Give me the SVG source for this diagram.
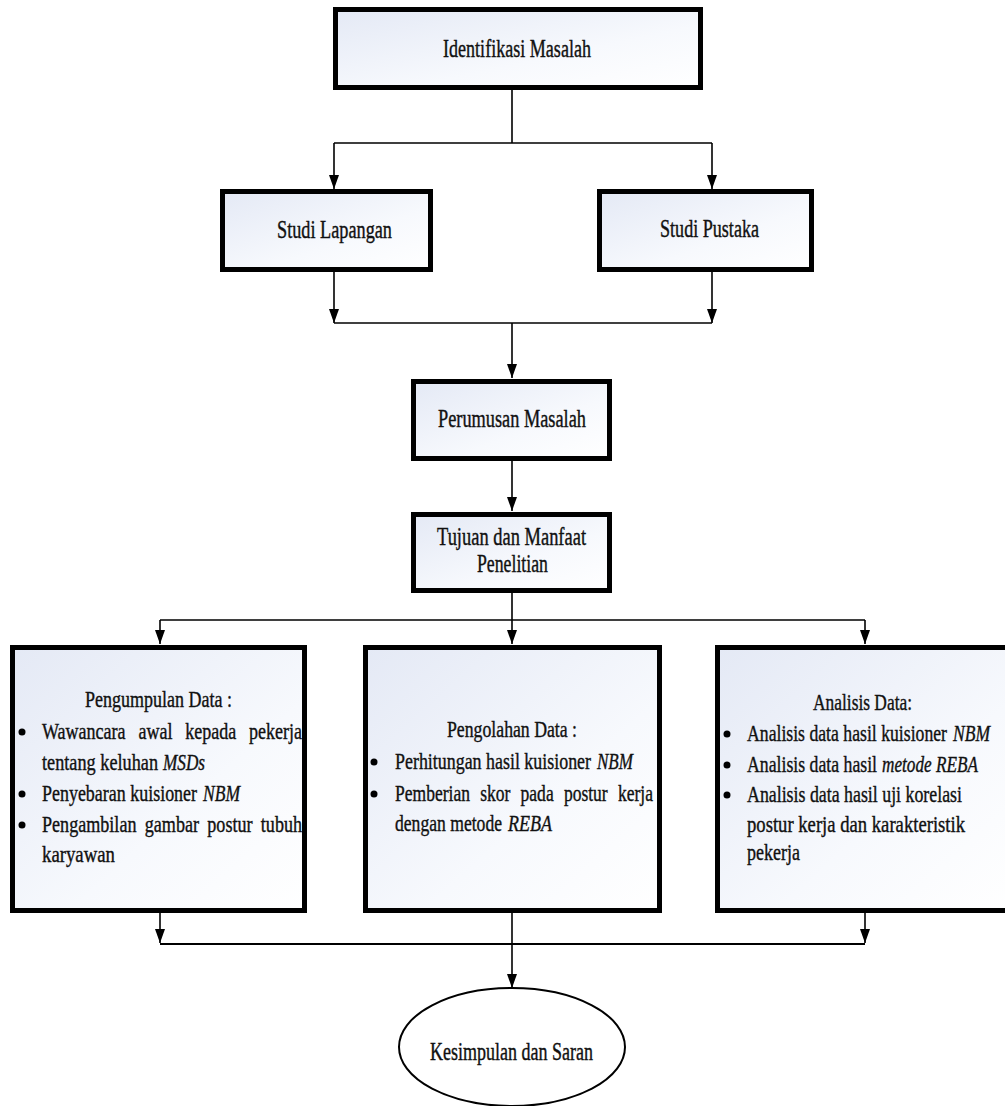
<svg xmlns="http://www.w3.org/2000/svg" width="1005" height="1106" viewBox="0 0 1005 1106">
<style>
.box{fill:url(#g);stroke:#000;stroke-width:5}
.t{font-family:"Liberation Serif","Times New Roman",serif;font-size:25px;fill:#111;stroke:#111;stroke-width:0.4}
.b{font-family:"Liberation Serif","Times New Roman",serif;font-size:24px;fill:#111;stroke:#111;stroke-width:0.4}
.i{font-style:italic}
.c{fill:none;stroke:#000;stroke-width:1.6}
.a{marker-end:url(#ar)}
.dot{fill:#000}
</style>
<defs>
<linearGradient id="g" x1="0" y1="0" x2="1" y2="1">
<stop offset="0" stop-color="#e4e9f5"/>
<stop offset="0.6" stop-color="#f7f9fd"/>
<stop offset="1" stop-color="#ffffff"/>
</linearGradient>
<marker id="ar" markerUnits="userSpaceOnUse" markerWidth="14" markerHeight="10" refX="14" refY="5" orient="auto">
<path d="M0,0 L14,5 L0,10 z" fill="#000"/>
</marker>
</defs>
<g id="connectors">
<path class="c" d="M512,90 V143 M334,143 H712"/>
<path class="c a" d="M334,143 V189"/>
<path class="c a" d="M712,143 V189"/>
<path class="c a" d="M334,272 V323"/>
<path class="c a" d="M712,272 V323"/>
<path class="c" d="M334,323 H712"/>
<path class="c a" d="M512,323 V378"/>
<path class="c a" d="M512,461 V511"/>
<path class="c" d="M512,593 V620 M160,620 H865"/>
<path class="c a" d="M160,620 V644"/>
<path class="c a" d="M512,620 V644"/>
<path class="c a" d="M865,620 V644"/>
<path class="c a" d="M160,913 V943"/>
<path class="c a" d="M865,913 V943"/>
<path class="c" style="stroke-width:2" d="M160,944 H865"/>
<path class="c a" d="M512,913 V988"/>
</g>
<g id="n-identifikasi">
<rect class="box" x="335.5" y="9.5" width="365" height="78"/>
<text class="t" transform="translate(443,57) scale(0.74,1)" textLength="200" lengthAdjust="spacingAndGlyphs">Identifikasi Masalah</text>
</g>
<g id="n-studi-lapangan">
<rect class="box" x="222.5" y="191.5" width="208" height="78"/>
<text class="t" transform="translate(277,238) scale(0.74,1)" textLength="155.4" lengthAdjust="spacingAndGlyphs">Studi Lapangan</text>
</g>
<g id="n-studi-pustaka">
<rect class="box" x="599.5" y="191.5" width="212" height="78"/>
<text class="t" transform="translate(660,237) scale(0.74,1)" textLength="133.8" lengthAdjust="spacingAndGlyphs">Studi Pustaka</text>
</g>
<g id="n-perumusan">
<rect class="box" x="413.5" y="381.5" width="196" height="77"/>
<text class="t" transform="translate(438,427) scale(0.74,1)" textLength="200" lengthAdjust="spacingAndGlyphs">Perumusan Masalah</text>
</g>
<g id="n-tujuan">
<rect class="box" x="413.5" y="514.5" width="196" height="76"/>
<text class="t" transform="translate(437,545) scale(0.74,1)" textLength="201.4" lengthAdjust="spacingAndGlyphs">Tujuan dan Manfaat</text>
<text class="t" transform="translate(477,572) scale(0.74,1)" textLength="95.9" lengthAdjust="spacingAndGlyphs">Penelitian</text>
</g>
<g id="n-pengumpulan">
<rect class="box" x="12.5" y="647.5" width="292" height="263"/>
<text class="b" transform="translate(85,707) scale(0.74,1)" textLength="198.6" lengthAdjust="spacingAndGlyphs">Pengumpulan Data :</text>
<circle class="dot" cx="22" cy="732" r="3.5"/>
<text class="b" transform="translate(42,739) scale(0.74,1)" textLength="351.4" lengthAdjust="spacingAndGlyphs" word-spacing="11">Wawancara awal kepada pekerja</text>
<text class="b" transform="translate(42,770) scale(0.74,1)" textLength="156.8" lengthAdjust="spacingAndGlyphs">tentang keluhan</text>
<text class="b i" transform="translate(163,770) scale(0.74,1)" textLength="56.8" lengthAdjust="spacingAndGlyphs">MSDs</text>
<circle class="dot" cx="22" cy="794" r="3.5"/>
<text class="b" transform="translate(42,801) scale(0.74,1)" textLength="209.5" lengthAdjust="spacingAndGlyphs">Penyebaran kuisioner</text>
<text class="b i" transform="translate(203,801) scale(0.74,1)" textLength="50" lengthAdjust="spacingAndGlyphs">NBM</text>
<circle class="dot" cx="22" cy="825" r="3.5"/>
<text class="b" transform="translate(42,832) scale(0.74,1)" textLength="351.4" lengthAdjust="spacingAndGlyphs" word-spacing="5">Pengambilan gambar postur tubuh</text>
<text class="b" transform="translate(42,862) scale(0.74,1)" textLength="98.6" lengthAdjust="spacingAndGlyphs">karyawan</text>
</g>
<g id="n-pengolahan">
<rect class="box" x="365.5" y="647.5" width="294" height="263"/>
<text class="b" transform="translate(447,737) scale(0.74,1)" textLength="175.7" lengthAdjust="spacingAndGlyphs">Pengolahan Data :</text>
<circle class="dot" cx="374" cy="762" r="3.5"/>
<text class="b" transform="translate(395,769) scale(0.74,1)" textLength="264.9" lengthAdjust="spacingAndGlyphs">Perhitungan hasil kuisioner</text>
<text class="b i" transform="translate(597,769) scale(0.74,1)" textLength="48.6" lengthAdjust="spacingAndGlyphs">NBM</text>
<circle class="dot" cx="374" cy="794" r="3.5"/>
<text class="b" transform="translate(395,801) scale(0.74,1)" textLength="348.6" lengthAdjust="spacingAndGlyphs" word-spacing="8">Pemberian skor pada postur kerja</text>
<text class="b" transform="translate(395,831) scale(0.74,1)" textLength="144.6" lengthAdjust="spacingAndGlyphs">dengan metode</text>
<text class="b i" transform="translate(508,831) scale(0.74,1)" textLength="59.5" lengthAdjust="spacingAndGlyphs">REBA</text>
</g>
<g id="n-analisis">
<rect class="box" x="717.5" y="647.5" width="295" height="263"/>
<text class="b" transform="translate(813,710) scale(0.74,1)" textLength="133.8" lengthAdjust="spacingAndGlyphs">Analisis Data:</text>
<circle class="dot" cx="727" cy="734" r="3.5"/>
<text class="b" transform="translate(747,741) scale(0.74,1)" textLength="270.3" lengthAdjust="spacingAndGlyphs">Analisis data hasil kuisioner</text>
<text class="b i" transform="translate(953,741) scale(0.74,1)" textLength="50" lengthAdjust="spacingAndGlyphs">NBM</text>
<circle class="dot" cx="727" cy="765" r="3.5"/>
<text class="b" transform="translate(747,772) scale(0.74,1)" textLength="175.7" lengthAdjust="spacingAndGlyphs">Analisis data hasil</text>
<text class="b i" transform="translate(882,772) scale(0.74,1)" textLength="129.7" lengthAdjust="spacingAndGlyphs">metode REBA</text>
<circle class="dot" cx="727" cy="795" r="3.5"/>
<text class="b" transform="translate(747,802) scale(0.74,1)" textLength="290.5" lengthAdjust="spacingAndGlyphs">Analisis data hasil uji korelasi</text>
<text class="b" transform="translate(747,832) scale(0.74,1)" textLength="294.6" lengthAdjust="spacingAndGlyphs">postur kerja dan karakteristik</text>
<text class="b" transform="translate(747,860) scale(0.74,1)" textLength="71.6" lengthAdjust="spacingAndGlyphs">pekerja</text>
</g>
<g id="n-kesimpulan">
<ellipse cx="512" cy="1047" rx="113" ry="59" fill="#fff" stroke="#000" stroke-width="2"/>
<text class="t" transform="translate(430,1060) scale(0.74,1)" textLength="220.3" lengthAdjust="spacingAndGlyphs">Kesimpulan dan Saran</text>
</g>
</svg>
